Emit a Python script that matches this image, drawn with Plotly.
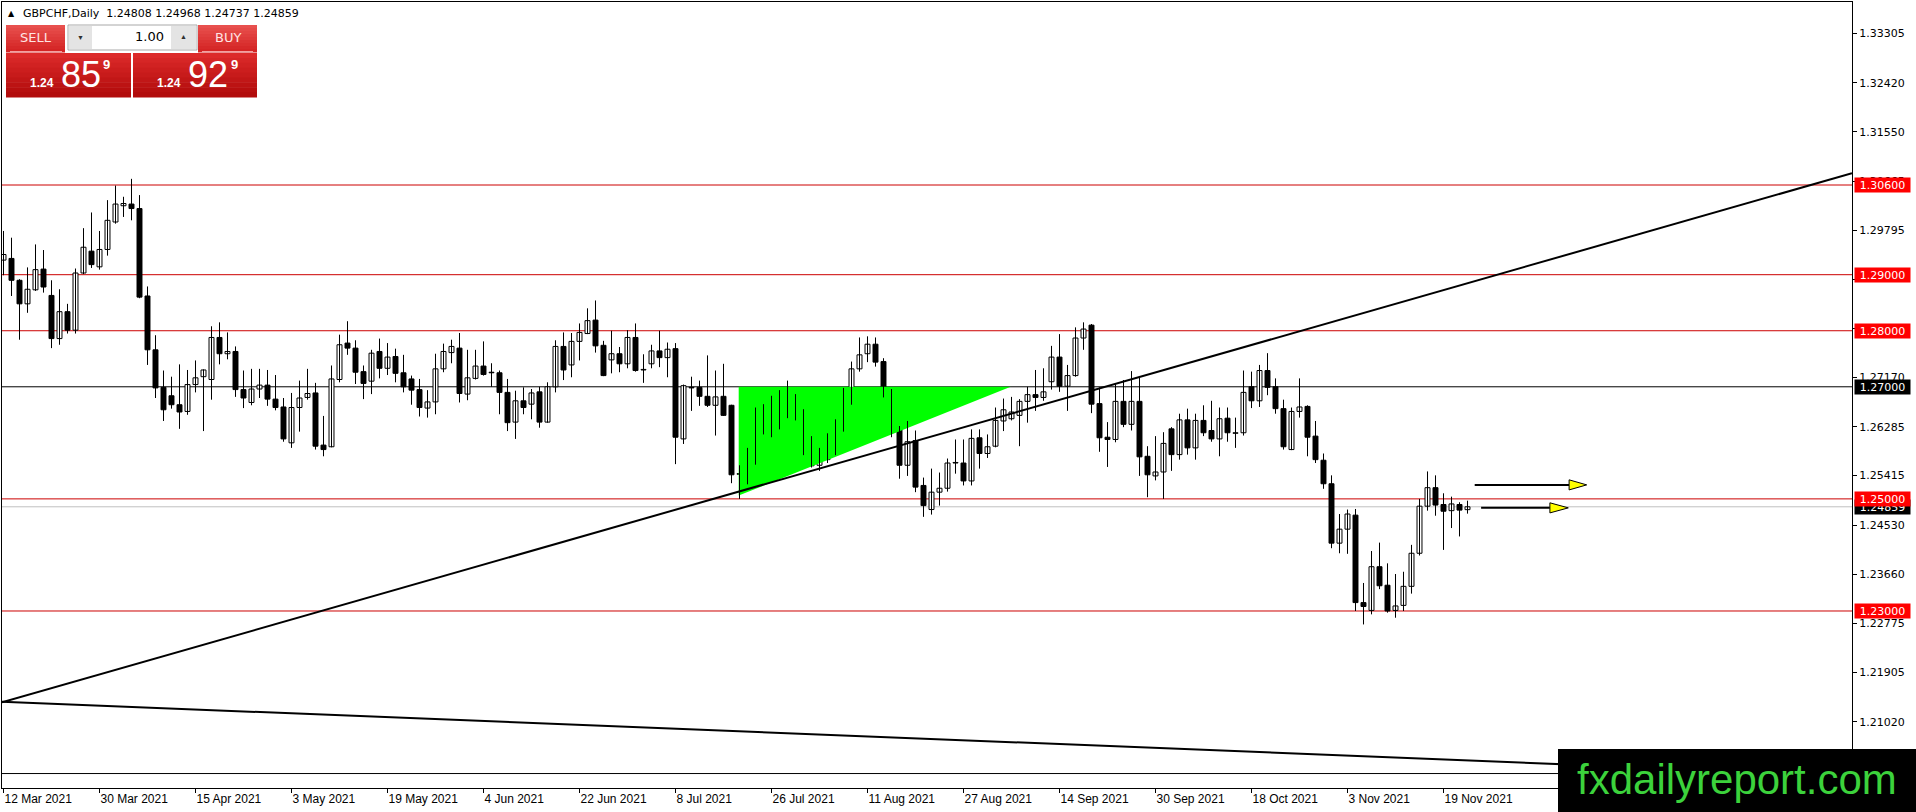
import plotly.graph_objects as go

# ---------------- data ----------------
pair_title = "GBPCHF,Daily"
last_ohlc = [1.24808, 1.24968, 1.24737, 1.24859]
bid_price = 1.24859
ask_price = 1.24929
lot_size = "1.00"

date_ticks = [0, 12, 24, 36, 48, 60, 72, 84, 96, 108, 120, 132, 144, 156, 168, 180]
date_labels = ["12 Mar 2021", "30 Mar 2021", "15 Apr 2021", "3 May 2021", "19 May 2021",
               "4 Jun 2021", "22 Jun 2021", "8 Jul 2021", "26 Jul 2021", "11 Aug 2021",
               "27 Aug 2021", "14 Sep 2021", "30 Sep 2021", "18 Oct 2021", "3 Nov 2021",
               "19 Nov 2021"]

price_ticks = [1.33305, 1.32420, 1.31550, 1.30665, 1.29795, 1.28920, 1.28045, 1.27170,
               1.26285, 1.25415, 1.24530, 1.23660, 1.22775, 1.21905, 1.21020]
price_tick_labels = ["1.33305", "1.32420", "1.31550", "1.30665", "1.29795", "", "", "1.27170",
                     "1.26285", "1.25415", "1.24530", "1.23660", "1.22775", "1.21905", "1.21020"]

opens = [1.2926, 1.2929, 1.2890, 1.2848, 1.2873, 1.2910, 1.2863, 1.2786, 1.2834, 1.2801,
         1.2903, 1.2942, 1.2914, 1.2945, 1.2994, 1.3023, 1.3026, 1.3018, 1.2862, 1.2766,
         1.2699, 1.2684, 1.2668, 1.2656, 1.2704, 1.2718, 1.2713, 1.2788, 1.2759, 1.2763,
         1.2695, 1.2672, 1.2696, 1.2703, 1.2678, 1.2664, 1.2600, 1.2663, 1.2681, 1.2689,
         1.2596, 1.2593, 1.2713, 1.2778, 1.2769, 1.2727, 1.2710, 1.2763, 1.2733, 1.2754,
         1.2725, 1.2714, 1.2695, 1.2662, 1.2673, 1.2732, 1.2761, 1.2769, 1.2687, 1.2715,
         1.2737, 1.2726, 1.2725, 1.2690, 1.2637, 1.2675, 1.2669, 1.2691, 1.2637, 1.2700,
         1.2772, 1.2739, 1.2781, 1.2795, 1.2819, 1.2774, 1.2748, 1.2759, 1.2741, 1.2788,
         1.2730, 1.2741, 1.2764, 1.2752, 1.2768, 1.2607, 1.2699, 1.2699, 1.2683, 1.2667,
         1.2683, 1.2667, 1.2545, 1.2547, 1.2578, 1.2641, 1.2641, 1.2649, 1.2683, 1.2649,
         1.2642, 1.2603, 1.2560, 1.2570, 1.2582, 1.2626, 1.2671, 1.2732, 1.2759, 1.2776,
         1.2745, 1.2685, 1.2626, 1.2560, 1.2604, 1.2524, 1.2481, 1.2512, 1.2519, 1.2564,
         1.2564, 1.2532, 1.2609, 1.2581, 1.2594, 1.2639, 1.2643, 1.2649, 1.2674, 1.2686,
         1.2681, 1.2709, 1.2753, 1.2701, 1.2720, 1.2787, 1.2810, 1.2670, 1.2610, 1.2606,
         1.2674, 1.2633, 1.2674, 1.2576, 1.2541, 1.2548, 1.2625, 1.2579, 1.2641, 1.2591,
         1.2640, 1.2622, 1.2607, 1.2644, 1.2617, 1.2618, 1.2700, 1.2675, 1.2729, 1.2700,
         1.2661, 1.2588, 1.2656, 1.2665, 1.2612, 1.2569, 1.2527, 1.2421, 1.2446, 1.2471,
         1.2315, 1.2301, 1.2379, 1.2346, 1.2301, 1.2310, 1.2344, 1.2403, 1.2487, 1.2520,
         1.2490, 1.2479, 1.2490, 1.24808]
highs = [1.2978, 1.2966, 1.2892, 1.2913, 1.2954, 1.2944, 1.2890, 1.2874, 1.2848, 1.2911,
         1.2983, 1.3011, 1.2978, 1.3033, 1.3059, 1.3039, 1.3071, 1.3042, 1.2879, 1.2792,
         1.2729, 1.2718, 1.2740, 1.2730, 1.2747, 1.2731, 1.2808, 1.2815, 1.2797, 1.2772,
         1.2729, 1.2732, 1.2732, 1.2730, 1.2721, 1.2680, 1.2689, 1.2711, 1.2732, 1.2707,
         1.2648, 1.2738, 1.2793, 1.2817, 1.2783, 1.2738, 1.2766, 1.2786, 1.2778, 1.2768,
         1.2757, 1.2720, 1.2714, 1.2694, 1.2759, 1.2777, 1.2784, 1.2796, 1.2766, 1.2766,
         1.2781, 1.2742, 1.2729, 1.2714, 1.2693, 1.2699, 1.2696, 1.2700, 1.2708, 1.2783,
         1.2797, 1.2796, 1.2813, 1.2840, 1.2854, 1.2782, 1.2800, 1.2771, 1.2801, 1.2813,
         1.2758, 1.2775, 1.2800, 1.2779, 1.2778, 1.2704, 1.2718, 1.2711, 1.2756, 1.2729,
         1.2741, 1.2668, 1.2560, 1.2591, 1.2663, 1.2669, 1.2684, 1.2694, 1.2711, 1.2687,
         1.2660, 1.2612, 1.2591, 1.2617, 1.2642, 1.2698, 1.2745, 1.2788, 1.2790, 1.2788,
         1.2751, 1.2696, 1.2630, 1.2639, 1.2622, 1.2538, 1.2554, 1.2547, 1.2572, 1.2606,
         1.2606, 1.2624, 1.2624, 1.2615, 1.2663, 1.2679, 1.2682, 1.2678, 1.2700, 1.2730,
         1.2733, 1.2773, 1.2794, 1.2739, 1.2806, 1.2815, 1.2812, 1.2699, 1.2637, 1.2706,
         1.2712, 1.2728, 1.2719, 1.2594, 1.2612, 1.2619, 1.2628, 1.2652, 1.2661, 1.2652,
         1.2667, 1.2675, 1.2663, 1.2663, 1.2645, 1.2729, 1.2727, 1.2739, 1.2760, 1.2715,
         1.2677, 1.2663, 1.2715, 1.2667, 1.2639, 1.2581, 1.2542, 1.2473, 1.2481, 1.2482,
         1.2350, 1.2407, 1.2422, 1.2385, 1.2366, 1.2370, 1.2418, 1.2500, 1.2549, 1.2542,
         1.2510, 1.2504, 1.2494, 1.24968]
lows = [1.2899, 1.2862, 1.2784, 1.2832, 1.2871, 1.2868, 1.2769, 1.2775, 1.2795, 1.2795,
        1.2901, 1.2912, 1.2909, 1.2934, 1.2991, 1.3003, 1.2997, 1.2858, 1.2739, 1.2680,
        1.2639, 1.2661, 1.2625, 1.2650, 1.2690, 1.2621, 1.2677, 1.2740, 1.2749, 1.2682,
        1.2662, 1.2667, 1.2680, 1.2666, 1.2658, 1.2602, 1.2591, 1.2620, 1.2677, 1.2588,
        1.2576, 1.2592, 1.2708, 1.2757, 1.2705, 1.2678, 1.2687, 1.2715, 1.2721, 1.2708,
        1.2690, 1.2668, 1.2647, 1.2645, 1.2651, 1.2726, 1.2742, 1.2672, 1.2676, 1.2713,
        1.2720, 1.2700, 1.2651, 1.2621, 1.2607, 1.2651, 1.2642, 1.2627, 1.2636, 1.2690,
        1.2712, 1.2717, 1.2747, 1.2794, 1.2761, 1.2719, 1.2724, 1.2726, 1.2733, 1.2727,
        1.2707, 1.2733, 1.2735, 1.2717, 1.2562, 1.2598, 1.2657, 1.2666, 1.2664, 1.2613,
        1.2648, 1.2528, 1.2500, 1.2526, 1.2561, 1.2615, 1.2610, 1.2624, 1.2644, 1.2640,
        1.2578, 1.2556, 1.2550, 1.2564, 1.2578, 1.2620, 1.2668, 1.2727, 1.2744, 1.2736,
        1.2681, 1.2610, 1.2536, 1.2541, 1.2512, 1.2468, 1.2472, 1.2488, 1.2513, 1.2545,
        1.2524, 1.2524, 1.2554, 1.2573, 1.2592, 1.2621, 1.2640, 1.2594, 1.2636, 1.2657,
        1.2675, 1.2695, 1.2691, 1.2657, 1.2718, 1.2766, 1.2653, 1.2584, 1.2557, 1.2601,
        1.2628, 1.2622, 1.2541, 1.2503, 1.2533, 1.2500, 1.2550, 1.2570, 1.2579, 1.2570,
        1.2612, 1.2602, 1.2576, 1.2602, 1.2591, 1.2613, 1.2662, 1.2664, 1.2685, 1.2652,
        1.2588, 1.2587, 1.2645, 1.2576, 1.2564, 1.2518, 1.2412, 1.2403, 1.2402, 1.2300,
        1.2276, 1.2294, 1.2339, 1.2297, 1.2288, 1.2300, 1.2331, 1.2399, 1.2479, 1.2470,
        1.2409, 1.2448, 1.2433, 1.24737]
closes = [1.2936, 1.2890, 1.2848, 1.2874, 1.2909, 1.2878, 1.2786, 1.2834, 1.2801, 1.2903,
          1.2949, 1.2918, 1.2945, 1.2997, 1.3026, 1.3027, 1.3018, 1.2860, 1.2766, 1.2698,
          1.2659, 1.2668, 1.2655, 1.2704, 1.2716, 1.2730, 1.2788, 1.2759, 1.2763, 1.2695,
          1.2680, 1.2696, 1.2703, 1.2678, 1.2663, 1.2607, 1.2663, 1.2680, 1.2688, 1.2594,
          1.2588, 1.2714, 1.2775, 1.2769, 1.2726, 1.2706, 1.2760, 1.2733, 1.2753, 1.2724,
          1.2700, 1.2694, 1.2663, 1.2673, 1.2732, 1.2763, 1.2772, 1.2688, 1.2716, 1.2737,
          1.2722, 1.2725, 1.2690, 1.2636, 1.2675, 1.2663, 1.2689, 1.2637, 1.2700, 1.2772,
          1.2730, 1.2781, 1.2797, 1.2818, 1.2773, 1.2720, 1.2759, 1.2741, 1.2788, 1.2729,
          1.2731, 1.2764, 1.2752, 1.2767, 1.2610, 1.2702, 1.2698, 1.2683, 1.2667, 1.2682,
          1.2649, 1.2543, 1.2544, 1.2578, 1.2645, 1.2643, 1.2649, 1.2683, 1.2649, 1.2642,
          1.2582, 1.2559, 1.2569, 1.2582, 1.2626, 1.2685, 1.2732, 1.2757, 1.2776, 1.2744,
          1.2682, 1.2626, 1.2560, 1.2602, 1.2521, 1.2488, 1.2512, 1.2519, 1.2564, 1.2565,
          1.2532, 1.2608, 1.2581, 1.2593, 1.2640, 1.2659, 1.2655, 1.2674, 1.2686, 1.2681,
          1.2691, 1.2753, 1.2701, 1.2720, 1.2787, 1.2803, 1.2669, 1.2609, 1.2606, 1.2674,
          1.2633, 1.2674, 1.2575, 1.2543, 1.2548, 1.2599, 1.2579, 1.2641, 1.2591, 1.2640,
          1.2618, 1.2607, 1.2643, 1.2618, 1.2618, 1.2690, 1.2675, 1.2729, 1.2699, 1.2661,
          1.2593, 1.2656, 1.2664, 1.2610, 1.2570, 1.2527, 1.2421, 1.2446, 1.2473, 1.2315,
          1.2308, 1.2379, 1.2345, 1.2300, 1.2309, 1.2344, 1.2403, 1.2487, 1.2520, 1.2489,
          1.2478, 1.2491, 1.2480, 1.24859]

red_levels = [1.30600, 1.29000, 1.28000, 1.25000, 1.23000]
black_levels = [1.27000, 1.20100]

trend_up_x = [-0.19, 231.06]
trend_up_y = [1.2137, 1.3081]
trend_dn_x = [-0.19, 231.06]
trend_dn_y = [1.2138, 1.2006]

triangle_x = [91.9, 91.9, 125.9]
triangle_y = [1.2700, 1.2506, 1.2700]

arrow_x_start = [183.9, 184.7]
arrow_x_head = [195.7, 193.3]
arrow_x_tip = [197.9, 195.6]
arrow_y = [1.2525, 1.2484]
arrow_half = 0.0009

x_range = [-0.1875, 231.0625]
y_range = [1.19842, 1.33865]

# ---------------- geometry helpers (page pixels -> paper) ----------------
W, H = 1916, 812
PL, PR, PT, PB = 2, 1852, 2, 788


def px(x):
    return (x - PL) / (PR - PL)


def py(y):
    return (PB - y) / (PB - PT)


FONT = "Liberation Sans, Arial, sans-serif"
MT_FONT = "DejaVu Sans, Verdana, sans-serif"

fig = go.Figure()

# green triangle (background object)
fig.add_trace(go.Scatter(x=triangle_x + [triangle_x[0]], y=triangle_y + [triangle_y[0]],
                         mode="lines", fill="toself", fillcolor="#00FF00",
                         line=dict(width=0, color="#00FF00"), hoverinfo="skip", showlegend=False))

# wicks
n = len(opens)
wx, wy = [], []
for i in range(n):
    wx += [i, i, None]
    wy += [lows[i], highs[i], None]
fig.add_trace(go.Scatter(x=wx, y=wy, mode="lines", line=dict(color="black", width=1),
                         hoverinfo="skip", showlegend=False))

# bodies
for bull in (True, False):
    xs, base, hgt = [], [], []
    for i in range(n):
        up = closes[i] >= opens[i]
        if up == bull:
            xs.append(i)
            base.append(min(opens[i], closes[i]))
            hgt.append(max(abs(closes[i] - opens[i]), 0.00003))
    fig.add_trace(go.Bar(x=xs, y=hgt, base=base, width=0.62,
                         marker=dict(color="white" if bull else "black",
                                     line=dict(color="black", width=1)),
                         hoverinfo="skip", showlegend=False))

# trend lines
fig.add_trace(go.Scatter(x=trend_up_x, y=trend_up_y, mode="lines",
                         line=dict(color="black", width=2), hoverinfo="skip", showlegend=False))
fig.add_trace(go.Scatter(x=trend_dn_x, y=trend_dn_y, mode="lines",
                         line=dict(color="black", width=2), hoverinfo="skip", showlegend=False))

# arrows
for xs0, xh, xt, ya in zip(arrow_x_start, arrow_x_head, arrow_x_tip, arrow_y):
    fig.add_trace(go.Scatter(x=[xs0, xh], y=[ya, ya], mode="lines",
                             line=dict(color="black", width=2), hoverinfo="skip", showlegend=False))
    fig.add_trace(go.Scatter(x=[xh, xt, xh, xh], y=[ya + arrow_half, ya, ya - arrow_half, ya + arrow_half],
                             mode="lines", fill="toself", fillcolor="#FFFF00",
                             line=dict(color="black", width=1), hoverinfo="skip", showlegend=False))

shapes = []
annotations = []

# horizontal levels
for v in red_levels:
    shapes.append(dict(type="line", xref="paper", x0=0, x1=1, yref="y", y0=v, y1=v,
                       line=dict(color="#CC0000", width=1), layer="below"))
for v in black_levels:
    shapes.append(dict(type="line", xref="paper", x0=0, x1=1, yref="y", y0=v, y1=v,
                       line=dict(color="black", width=1), layer="below"))
shapes.append(dict(type="line", xref="paper", x0=0, x1=1, yref="y", y0=bid_price, y1=bid_price,
                   line=dict(color="#C0C0C0", width=1), layer="below"))


# price labels on axis
def axis_label(v, bg):
    annotations.append(dict(xref="paper", x=px(1854), xanchor="left", yref="y", y=v, yanchor="middle",
                            text=f"{v:.5f}", showarrow=False, bgcolor=bg, width=55, height=14,
                            borderpad=0, align="center",
                            font=dict(family=MT_FONT, size=11, color="white")))


axis_label(bid_price, "black")
axis_label(black_levels[0], "black")
for v in red_levels:
    axis_label(v, "#FF0000")

# watermark
shapes.append(dict(type="rect", xref="paper", yref="paper", x0=px(1558), x1=px(1916),
                   y0=py(812), y1=py(749), fillcolor="black", line=dict(width=0), layer="above"))
annotations.append(dict(xref="paper", yref="paper", x=px(1737), y=py(779), text="fxdailyreport.com",
                        showarrow=False, xanchor="center", yanchor="middle",
                        font=dict(family=FONT, size=42, color="#3CD23C")))

# header
annotations.append(dict(xref="paper", yref="paper", x=px(6), y=py(13), text="▲", showarrow=False,
                        xanchor="left", yanchor="middle", font=dict(family="DejaVu Sans", size=8, color="black")))
annotations.append(dict(xref="paper", yref="paper", x=px(21), y=py(13),
                        text=pair_title + "  " + " ".join(f"{v:.5f}" for v in last_ohlc),
                        showarrow=False, xanchor="left", yanchor="middle",
                        font=dict(family=MT_FONT, size=11, color="black")))


# one-click trading panel
def rect(x0, y0, x1, y1, fill, line=None):
    shapes.append(dict(type="rect", xref="paper", yref="paper", x0=px(x0), x1=px(x1),
                       y0=py(y1), y1=py(y0), fillcolor=fill,
                       line=dict(width=1 if line else 0, color=line or fill), layer="above"))


def gradient(x0, y0, x1, y1, top, bot, steps=9):
    t = [int(top[i:i + 2], 16) for i in (1, 3, 5)]
    b = [int(bot[i:i + 2], 16) for i in (1, 3, 5)]
    hstep = (y1 - y0) / steps
    for k in range(steps):
        f = k / (steps - 1)
        c = "#%02x%02x%02x" % tuple(int(t[j] + (b[j] - t[j]) * f) for j in range(3))
        rect(x0, y0 + k * hstep, x1, y0 + (k + 1) * hstep + 0.5, c)


def text(x, y, s, size, color="white", anchor="center", bold=False, family=FONT):
    annotations.append(dict(xref="paper", yref="paper", x=px(x), y=py(y), text=f"<b>{s}</b>" if bold else s,
                            showarrow=False, xanchor=anchor, yanchor="middle",
                            font=dict(family=family, size=size, color=color)))


gradient(6, 25, 65, 52, "#e8504e", "#d42424")
gradient(198, 25, 257, 52, "#e8504e", "#d42424")
gradient(6, 53, 131, 97, "#dc2a2a", "#b20c0c")
gradient(133, 53, 257, 97, "#dc2a2a", "#b20c0c")
shapes.append(dict(type="line", xref="paper", yref="paper", x0=px(10), x1=px(62), y0=py(51.5), y1=py(51.5),
                   line=dict(color="#f4a0a0", width=1), layer="above"))
shapes.append(dict(type="line", xref="paper", yref="paper", x0=px(202), x1=px(253), y0=py(51.5), y1=py(51.5),
                   line=dict(color="#f4a0a0", width=1), layer="above"))
rect(68, 25, 197, 50, "white", "#a8a8a8")
rect(69, 26, 92, 49, "#e4e4e4")
rect(171, 26, 196, 49, "#e4e4e4")
text(80, 38, "▼", 7, "#303030")
text(183, 37, "▲", 7, "#303030")
text(166, 37, lot_size, 13, "black", anchor="right", family=MT_FONT)
text(36, 38, "SELL", 13, "#ffe4e4", family=MT_FONT)
text(228, 38, "BUY", 13, "#ffe4e4", family=MT_FONT)

for val, xr, xb, xs in ((bid_price, 56, 59, 101), (ask_price, 183, 186, 229)):
    s = f"{val:.5f}"
    text(xr, 83, s[:4], 12, anchor="right", bold=True)
    text(xb, 74, s[4:6], 36, anchor="left")
    text(xs, 65, s[6], 13, anchor="left", bold=True)

fig.update_layout(
    width=W, height=H,
    margin=dict(l=PL, r=W - PR, t=PT, b=H - PB, pad=0),
    paper_bgcolor="white", plot_bgcolor="white",
    barmode="overlay", showlegend=False,
    shapes=shapes, annotations=annotations,
    font=dict(family=FONT, color="black"),
    xaxis=dict(range=x_range, tickmode="array", tickvals=date_ticks, ticktext=date_labels,
               ticks="outside", ticklen=4, tickcolor="black", ticklabelposition="outside right",
               tickfont=dict(family=FONT, size=12, color="black"),
               showline=True, mirror=True, linecolor="black", linewidth=1,
               showgrid=False, zeroline=False, fixedrange=True),
    yaxis=dict(range=y_range, side="right", tickmode="array", tickvals=price_ticks,
               ticktext=price_tick_labels, ticks="outside", ticklen=4, tickcolor="black",
               tickfont=dict(family=MT_FONT, size=11, color="black"),
               showline=True, mirror=True, linecolor="black", linewidth=1,
               showgrid=False, zeroline=False, fixedrange=True),
)

fig.write_html("out.html", config={"displayModeBar": False, "staticPlot": True},
               post_script="document.body.style.margin='0px';")
